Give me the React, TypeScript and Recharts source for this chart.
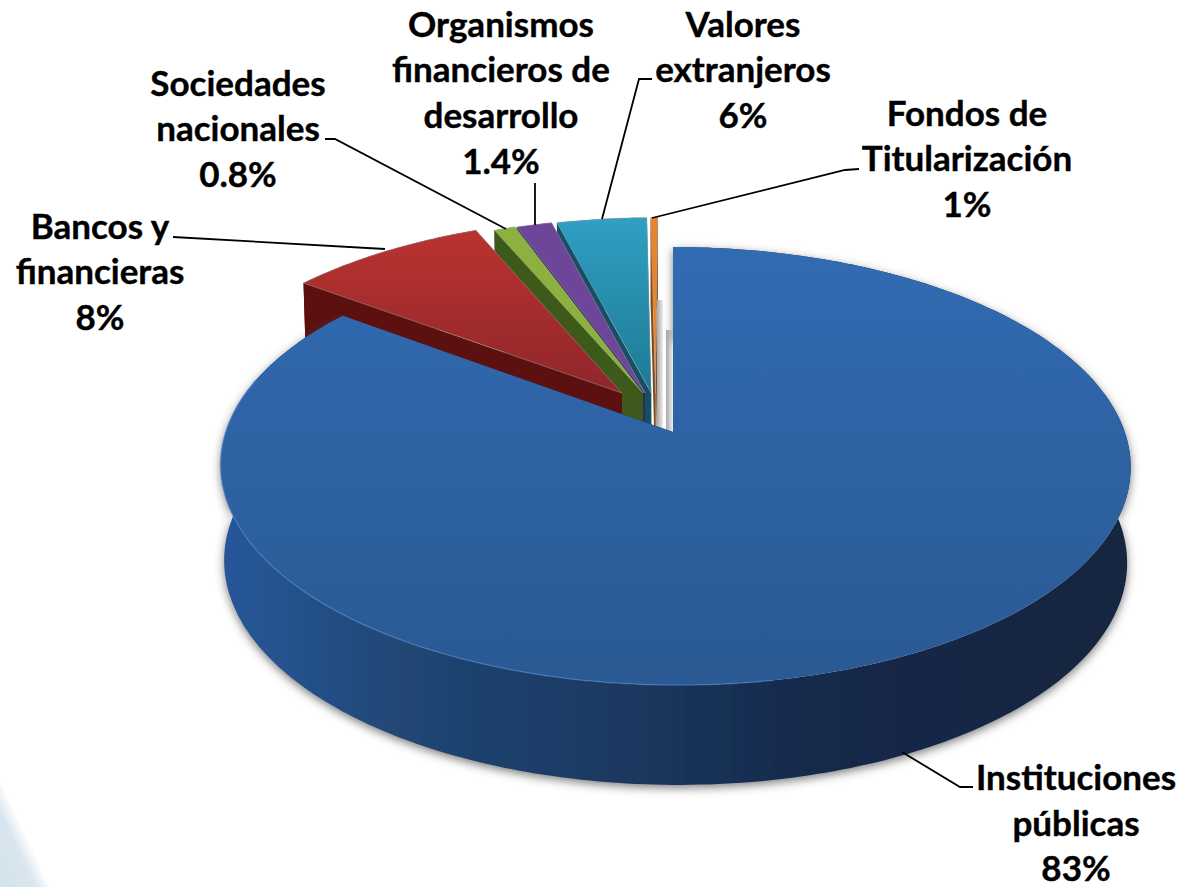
import React from 'react';
import { PieChart, Pie } from 'recharts';

// drawn back to front, so the big slice comes last and covers the walls behind it
const categories = [
  'Fondos de Titularización',
  'Valores extranjeros',
  'Organismos financieros de desarrollo',
  'Sociedades nacionales',
  'Bancos y financieras',
  'Instituciones públicas',
];
// shares as measured on the drawn slices, printed percentages are separate
const shares = [0.3, 3.8, 1.5, 0.9, 8.4, 85.2];
const percentLabels = ['1%', '6%', '1.4%', '0.8%', '8%', '83%'];

const tableData = categories.map((name, i) => ({ name, value: shares[i] }));

const FONT = 'Lato, sans-serif';
const PERSP = 0.1553;
const LINE_GAP = 45.7;

// explode offset of each slice in the plane of the disc
const explode: Record<string, number[]> = {
  'Fondos de Titularización': [-0.04, 0.188],
  'Valores extranjeros': [-0.05, 0.188],
  'Organismos financieros de desarrollo': [-0.064, 0.188],
  'Sociedades nacionales': [-0.0687, 0.188],
  'Bancos y financieras': [-0.117, 0.188],
  'Instituciones públicas': [0, 0],
};

const paints: Record<string, { top: string; wall: string }> = {
  'Fondos de Titularización': { top: '#e8842c', wall: '#7a4a1c' },
  'Valores extranjeros': { top: 'url(#gTeal)', wall: '#154f66' },
  'Organismos financieros de desarrollo': { top: '#6d4599', wall: '#2f2a5c' },
  'Sociedades nacionales': { top: '#8db13f', wall: '#3d5a1a' },
  'Bancos y financieras': { top: 'url(#gRed)', wall: '#5c1010' },
  'Instituciones públicas': { top: 'url(#gBlue)', wall: 'url(#gBlueWall)' },
};

// label text block (y = first baseline) and leader line, per category
const labelLayout: Record<string, { x: number; y: number; lines: string[]; leader: number[][] }> = {
  'Fondos de Titularización': {
    x: 967, y: 125.5, lines: ['Fondos de', 'Titularización'],
    leader: [[859, 169], [845, 170], [652, 218]],
  },
  'Valores extranjeros': {
    x: 743, y: 36.5, lines: ['Valores', 'extranjeros'],
    leader: [[652, 79], [639, 79], [602, 219]],
  },
  'Organismos financieros de desarrollo': {
    x: 501, y: 36.5, lines: ['Organismos', 'financieros de', 'desarrollo'],
    leader: [[535, 183], [535, 225]],
  },
  'Sociedades nacionales': {
    x: 238, y: 95.5, lines: ['Sociedades', 'nacionales'],
    leader: [[325, 139], [335, 139], [506, 229]],
  },
  'Bancos y financieras': {
    x: 100, y: 238.5, lines: ['Bancos y', 'financieras'],
    leader: [[173, 237], [385, 249]],
  },
  'Instituciones públicas': {
    x: 1076, y: 790, lines: ['Instituciones', 'públicas'],
    leader: [[973, 787], [960, 787], [902, 752]],
  },
};

// disc plane -> screen, top face and bottom face have their own vanishing
const project = (u: number, v: number, bottom = false) => {
  const w = 1 + PERSP * v;
  if (bottom) return [673 + (446 * u) / w, (527 - 136 * v) / w];
  return [673 + (449.5 * u) / w, (432 - 146.65 * v) / w];
};

const pts = (list: number[][]) => list.map((p) => `${p[0].toFixed(1)},${p[1].toFixed(1)}`).join(' ');

const Slice3D = (props: any) => {
  const { name, startAngle, endAngle } = props;
  const [ou, ov] = explode[name];
  const paint = paints[name];
  const isMain = name === 'Instituciones públicas';
  const a0 = Math.min(startAngle, endAngle);
  const a1 = Math.max(startAngle, endAngle);
  const steps = Math.max(2, Math.ceil(a1 - a0));
  const rim: number[][] = [];
  for (let i = 0; i <= steps; i++) {
    const a = ((a0 + ((a1 - a0) * i) / steps) * Math.PI) / 180;
    const s = Math.sin(a);
    // big disc sits a touch right of its apex, more so towards the viewer
    const lean = isMain ? 0.005 * (1 - s) : 0;
    rim.push([ou + Math.cos(a) + lean, ov + s]);
  }
  const topRim = rim.map((p) => project(p[0], p[1]));
  const lowRim = rim.map((p) => project(p[0], p[1], true));
  const apex = project(ou, ov);
  const lowApex = project(ou, ov, true);

  const front = isMain ? rim.filter((p) => p[1] < 0.25 && p[0] < 0.2).map((p) => project(p[0], p[1])) : [];

  return (
    <g>
      {isMain && (
        <g>
          <rect x={apex[0] - 16} y={300} width={6} height={apex[1] - 300} fill="url(#gNotch)" />
          <rect x={apex[0] - 7} y={330} width={7} height={apex[1] - 330} fill="url(#gNotch)" />
        </g>
      )}
      <polygon points={pts([apex, lowApex, lowRim[0], topRim[0]])} fill={paint.wall} />
      <polygon points={pts([apex, lowApex, lowRim[steps], topRim[steps]])} fill={paint.wall} />
      <polygon
        points={pts([...topRim, ...[...lowRim].reverse()])}
        fill={paint.wall}
        filter={isMain ? 'url(#wallShadow)' : undefined}
      />
      <polygon
        points={pts([apex, ...topRim])}
        fill={paint.top}
        stroke={isMain ? 'none' : 'rgba(170,170,170,0.45)'}
        strokeWidth={1}
      />
      {isMain && (
        <polyline points={pts(front)} fill="none" stroke="#4a82c6" strokeWidth={1.5} opacity={0.55} />
      )}
    </g>
  );
};

const renderLabel = (props: any) => {
  const { name, index } = props;
  const box = labelLayout[name];
  const rows = [...box.lines, percentLabels[index]];
  return (
    <g key={name}>
      <polyline points={pts(box.leader)} fill="none" stroke="#000" strokeWidth={1.8} />
      <text
        textAnchor="middle"
        fontFamily={FONT}
        fontWeight={700}
        fontSize={35}
        fill="#000"
        stroke="#000"
        strokeWidth={0.4}
      >
        {rows.map((line, i) => (
          <tspan key={line} x={box.x} y={box.y + i * LINE_GAP}>
            {line}
          </tspan>
        ))}
      </text>
    </g>
  );
};

export default function App() {
  return (
    <div
      style={{
        position: 'absolute',
        left: 0,
        top: 0,
        width: 1182,
        height: 887,
        overflow: 'hidden',
        background: 'linear-gradient(65deg, #d3e2ec 0px, #d9e6ef 32px, #ffffff 46px)',
      }}
    >
      <PieChart width={1182} height={887} margin={{ top: 0, right: 0, bottom: 0, left: 0 }}>
        <defs>
          <linearGradient id="gBlue" x1="0" y1="0" x2="0" y2="1">
            <stop offset="0" stopColor="#316bb2" />
            <stop offset="1" stopColor="#2a5993" />
          </linearGradient>
          <linearGradient id="gBlueWall" x1="0" y1="0" x2="1" y2="0">
            <stop offset="0" stopColor="#26569a" />
            <stop offset="0.1" stopColor="#245088" />
            <stop offset="0.2" stopColor="#204674" />
            <stop offset="0.45" stopColor="#1b3860" />
            <stop offset="0.65" stopColor="#15294a" />
            <stop offset="1" stopColor="#14253f" />
          </linearGradient>
          <linearGradient id="gRed" x1="0" y1="0" x2="0" y2="1">
            <stop offset="0" stopColor="#b93330" />
            <stop offset="1" stopColor="#90262a" />
          </linearGradient>
          <linearGradient id="gTeal" x1="0" y1="0" x2="0" y2="1">
            <stop offset="0" stopColor="#2f9fc3" />
            <stop offset="1" stopColor="#1e7a93" />
          </linearGradient>
          <linearGradient id="gNotch" x1="0" y1="0" x2="1" y2="0">
            <stop offset="0" stopColor="#a8a8a8" />
            <stop offset="1" stopColor="#eeeeee" />
          </linearGradient>
          <filter id="wallShadow" x="-5%" y="-5%" width="110%" height="110%">
            <feDropShadow dx="0" dy="3" stdDeviation="5" floodColor="#444" floodOpacity="0.7" />
          </filter>
        </defs>
        <Pie
          data={tableData}
          dataKey="value"
          nameKey="name"
          cx={673}
          cy={432}
          outerRadius={300}
          startAngle={90}
          endAngle={450}
          stroke="none"
          shape={Slice3D}
          label={renderLabel}
          labelLine={false}
          isAnimationActive={false}
        />
      </PieChart>
    </div>
  );
}
